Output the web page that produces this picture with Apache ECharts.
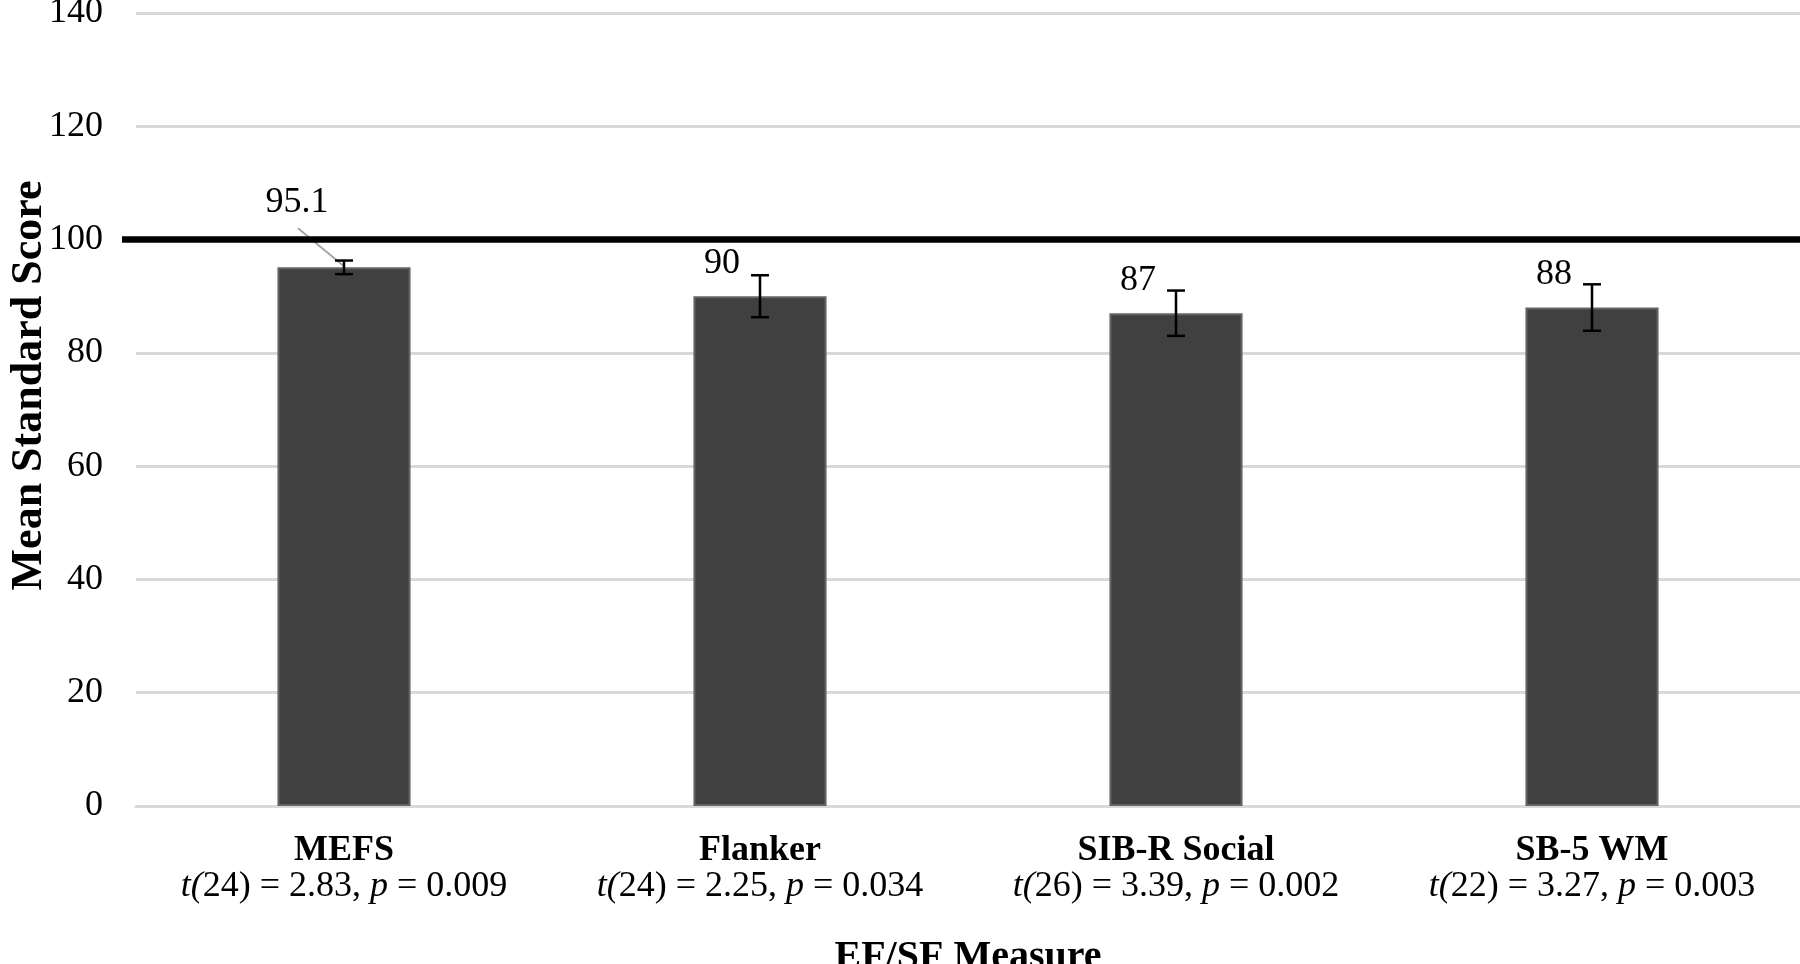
<html>
<head>
    <meta charset="utf-8">
    <title>EF/SF Measure</title>
    <script src="https://cdn.jsdelivr.net/npm/echarts@6/dist/echarts.min.js"></script>
    <style>
        html, body { margin: 0; padding: 0; background: #fff; }
    </style>
</head>
<body>
    <div id="chartmain" style="width:1800px; height:964px;"></div>

    <script type="text/javascript">
        // data
        var categories = ['MEFS', 'Flanker', 'SIB-R Social', 'SB-5 WM'];
        var means = [95.1, 90, 87, 88];
        var errors = [1.2, 3.7, 4.0, 4.1];
        var dfs = [24, 24, 26, 22];
        var tValues = ['2.83', '2.25', '3.39', '3.27'];
        var pValues = ['0.009', '0.034', '0.002', '0.003'];
        var yTicks = [0, 20, 40, 60, 80, 100, 120, 140];
        var normScore = 100;

        var FONT = 'Liberation Serif';
        var calloutIndex = 0; // the 95.1 label sits off the bar with a leader line

        var errData = categories.map(function (c, i) {
            return [i, means[i] - errors[i], means[i] + errors[i], means[i]];
        });

        var barData = means.map(function (v, i) {
            var item = { value: v };
            if (i === calloutIndex) {
                item.label = { offset: [-47, -42] };
            }
            return item;
        });

        var myChart = echarts.init(document.getElementById('chartmain'));

        myChart.setOption({
            animation: false,
            backgroundColor: '#fff',
            textStyle: { fontFamily: FONT },
            grid: {
                left: 136,
                right: 0,
                top: 13,
                bottom: 158,
                containLabel: false,
                outerBoundsMode: 'none'
            },
            xAxis: {
                type: 'category',
                data: categories,
                name: 'EF/SF Measure',
                nameLocation: 'middle',
                nameGap: 132,
                nameMoveOverlap: false,
                nameTextStyle: {
                    fontFamily: FONT,
                    fontSize: 40,
                    fontWeight: 'bold',
                    color: '#000'
                },
                axisTick: { show: false },
                axisLine: { lineStyle: { color: '#d9d9d9', width: 3 } },
                axisLabel: {
                    margin: 27,
                    interval: 0,
                    formatter: function (val, i) {
                        return '{b|' + val + '}\n{i|t(}{n|' + dfs[i] + ') = ' + tValues[i] +
                            ', }{i|p}{n| = ' + pValues[i] + '}';
                    },
                    rich: {
                        b: { fontFamily: FONT, fontSize: 36, fontWeight: 'bold', color: '#000', lineHeight: 36 },
                        i: { fontFamily: FONT, fontSize: 36, fontStyle: 'italic', color: '#000', lineHeight: 36 },
                        n: { fontFamily: FONT, fontSize: 36, color: '#000', lineHeight: 36 }
                    }
                }
            },
            yAxis: {
                type: 'value',
                min: yTicks[0],
                max: yTicks[yTicks.length - 1],
                interval: yTicks[1] - yTicks[0],
                name: 'Mean Standard Score',
                nameLocation: 'middle',
                nameGap: 84,
                nameMoveOverlap: false,
                nameTextStyle: {
                    fontFamily: FONT,
                    fontSize: 44,
                    fontWeight: 'bold',
                    color: '#000',
                    padding: [0, 0, 0, 48]
                },
                axisLine: { show: false },
                axisTick: { show: false },
                axisLabel: {
                    margin: 33,
                    fontFamily: FONT,
                    fontSize: 36,
                    color: '#000'
                },
                splitLine: { lineStyle: { color: '#d9d9d9', width: 3 } }
            },
            series: [
                {
                    name: 'Mean',
                    type: 'bar',
                    data: barData,
                    barWidth: '32%',
                    itemStyle: {
                        color: '#404040',
                        borderColor: '#646464',
                        borderWidth: 2
                    },
                    label: {
                        show: true,
                        position: 'top',
                        offset: [-38, -10],
                        fontFamily: FONT,
                        fontSize: 36,
                        color: '#000'
                    },
                    z: 2
                },
                {
                    name: 'SE',
                    type: 'custom',
                    data: errData,
                    encode: { x: 0, y: [1, 2] },
                    z: 5,
                    renderItem: function (params, api) {
                        var x = api.value(0);
                        var lo = api.coord([x, api.value(1)]);
                        var hi = api.coord([x, api.value(2)]);
                        var cap = 9;
                        var style = { stroke: '#000', lineWidth: 2.5 };
                        var children = [
                            { type: 'line', shape: { x1: hi[0], y1: hi[1], x2: lo[0], y2: lo[1] }, style: style },
                            { type: 'line', shape: { x1: hi[0] - cap, y1: hi[1], x2: hi[0] + cap, y2: hi[1] }, style: style },
                            { type: 'line', shape: { x1: lo[0] - cap, y1: lo[1], x2: lo[0] + cap, y2: lo[1] }, style: style }
                        ];
                        if (params.dataIndex === calloutIndex) {
                            var top = api.coord([x, api.value(3)]);
                            children.unshift({
                                type: 'line',
                                shape: { x1: top[0], y1: top[1] - 1, x2: top[0] - 46, y2: top[1] - 39 },
                                style: { stroke: '#a6a6a6', lineWidth: 2 }
                            });
                            // reference line at the normative mean, runs a bit past the axis like the original
                            var cs = params.coordSys;
                            var yNorm = api.coord([x, normScore])[1];
                            children.push({
                                type: 'line',
                                shape: { x1: cs.x - 14, y1: yNorm, x2: cs.x + cs.width, y2: yNorm },
                                style: { stroke: '#000', lineWidth: 6.5 }
                            });
                        }
                        return { type: 'group', children: children };
                    }
                }
            ]
        });
    </script>
</body>
</html>
